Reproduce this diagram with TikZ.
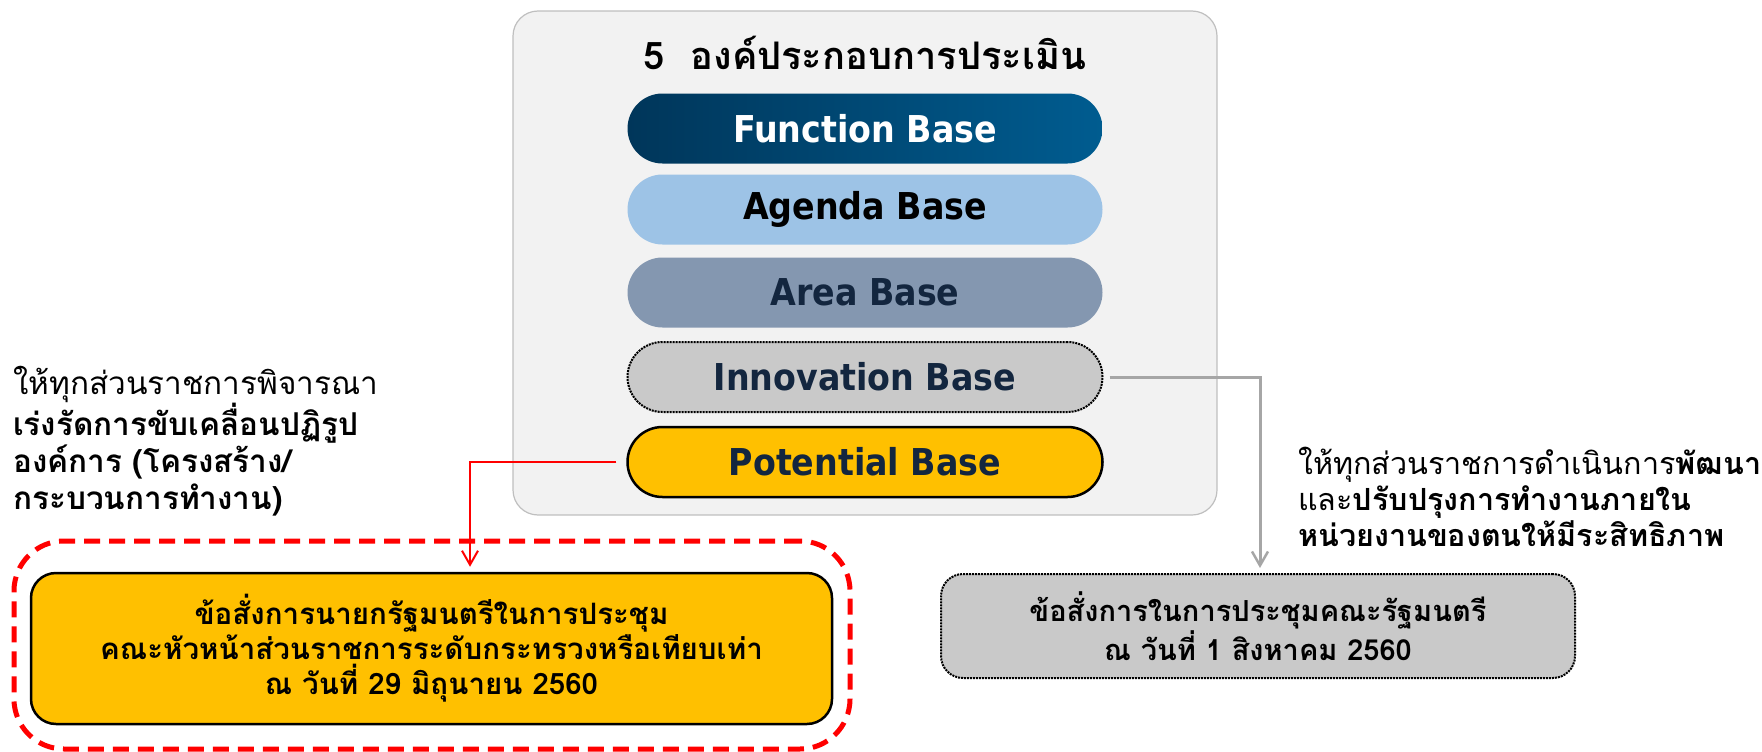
\documentclass[tikz,border=0pt]{standalone}
\usepackage{fontspec}
\setmainfont{DejaVu Sans}
\newfontfamily\thai[Script=Thai]{Loma}
\newfontfamily\latc{DejaVu Sans Condensed}
\usetikzlibrary{arrows.meta}
\definecolor{panelfill}{HTML}{F2F2F2}
\definecolor{panelline}{HTML}{BFBFBF}
\definecolor{navyA}{HTML}{00365A}
\definecolor{navyB}{HTML}{005C90}
\definecolor{agenda}{HTML}{9DC3E6}
\definecolor{area}{HTML}{8497B0}
\definecolor{innov}{HTML}{C9C9C9}
\definecolor{gold}{HTML}{FFC000}
\definecolor{darknavy}{HTML}{13263F}
\definecolor{redline}{HTML}{FF0000}
\definecolor{grayline}{HTML}{A6A6A6}
\tikzset{
  pill/.style={minimum width=475pt, minimum height=70pt, rounded corners=35pt, inner sep=0pt,
    font=\latc\bfseries\fontsize{37}{40}\selectfont},
  thaitext/.style={inner sep=0pt, align=left, font=\thai\fontsize{31.5}{37}\selectfont},
  boxtext/.style={align=center, font=\thai\bfseries\fontsize{29.5}{35}\selectfont},
}
\begin{document}
\begin{tikzpicture}[x=1pt,y=-1pt]
\useasboundingbox (0,0) rectangle (1762,752);
\node[draw=panelline, line width=1.2pt, fill=panelfill, rounded corners=25pt,
  minimum width=704pt, minimum height=504pt] (panel) at (865,263) {};
\node[font=\thai\bfseries\fontsize{38}{42}\selectfont] (title) at (865,53) {5\ \ องค์ประกอบการประเมิน};
\node[pill, left color=navyA, right color=navyB, text=white] (func) at (865,128.5) {Function Base};
\node[pill, fill=agenda, text=black] (agenda) at (865,209.5) {Agenda Base};
\node[pill, fill=area, text=darknavy] (area) at (865,292.5) {Area Base};
\node[pill, fill=innov, draw=black, densely dotted, line width=2pt, text=darknavy] (inno) at (865,377) {Innovation Base};
\node[pill, fill=gold, draw=black, line width=2.5pt, text=darknavy] (pot) at (865,462) {Potential Base};

\node[thaitext, anchor=west] (lefttext) at (13,441) {ให้ทุกส่วนราชการพิจารณา\\
\bfseries เร่งรัดการขับเคลื่อนปฏิรูป\\
\bfseries องค์การ (โครงสร้าง/\\
\bfseries กระบวนการทำงาน)};

\node[thaitext, anchor=west, font=\thai\fontsize{30.5}{36}\selectfont] (righttext) at (1298,497) {ให้ทุกส่วนราชการดำเนินการ\textbf{พัฒนา}\\
และ\textbf{ปรับปรุงการทำงานภายใน}\\
\bfseries หน่วยงานของตนให้มีระสิทธิภาพ};

\node[draw=redline, line width=5pt, dash pattern=on 16pt off 9pt, rounded corners=50pt,
  minimum width=836pt, minimum height=208pt] (redframe) at (432,645) {};
\node[draw=black, line width=2.5pt, fill=gold, rounded corners=25pt,
  minimum width=801pt, minimum height=151pt, boxtext] (ybox) at (431.5,648.5)
  {ข้อสั่งการนายกรัฐมนตรีในการประชุม\\คณะหัวหน้าส่วนราชการระดับกระทรวงหรือเทียบเท่า\\ณ วันที่ 29 มิถุนายน 2560};
\node[draw=black, densely dotted, line width=2pt, fill=innov, rounded corners=22pt,
  minimum width=634pt, minimum height=104pt, boxtext, font=\thai\bfseries\fontsize{29}{35}\selectfont] (gbox) at (1258,626)
  {ข้อสั่งการในการประชุมคณะรัฐมนตรี\\ณ วันที่ 1 สิงหาคม 2560};

\draw[redline, line width=2pt, -{Straight Barb[length=14pt,width=16pt,line width=2pt]}, shorten <=10pt, shorten >=5pt]
  (pot.west) -| ([xshift=38.5pt]ybox.north);
\draw[grayline, line width=3pt, -{Straight Barb[length=14pt,width=16pt,line width=2.5pt]}, shorten <=6pt, shorten >=5pt]
  (inno.east) -| ([xshift=2pt]gbox.north);
\end{tikzpicture}
\end{document}
